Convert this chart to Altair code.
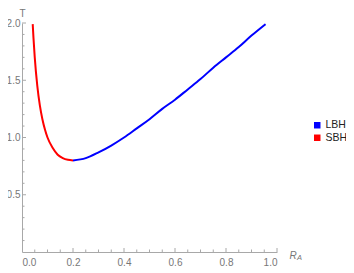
import altair as alt
import pandas as pd

# Small black hole branch (red)
sbh_r = [0.042, 0.045, 0.05, 0.06, 0.07, 0.08, 0.09, 0.10, 0.12, 0.14, 0.16, 0.18, 0.20]
sbh_t = [1.99, 1.87, 1.70, 1.45, 1.28, 1.16, 1.07, 1.00, 0.91, 0.85, 0.82, 0.805, 0.80]
# Large black hole branch (blue)
lbh_r = [0.20, 0.25, 0.30, 0.35, 0.40, 0.45, 0.50, 0.55, 0.60, 0.65, 0.70, 0.75, 0.80, 0.85, 0.90, 0.955]
lbh_t = [0.80, 0.82, 0.87, 0.93, 1.00, 1.08, 1.16, 1.25, 1.33, 1.42, 1.51, 1.61, 1.70, 1.79, 1.89, 1.99]

series_names = ["LBH", "SBH"]
series_colors = ["#0000ff", "#ff0000"]

x_labels = [0.0, 0.2, 0.4, 0.6, 0.8, 1.0]
y_labels = [0.5, 1.0, 1.5, 2.0]
x_major = [0.2, 0.4, 0.6, 0.8, 1.0]
x_minor = [0.05, 0.1, 0.15, 0.25, 0.3, 0.35, 0.45, 0.5, 0.55, 0.65, 0.7, 0.75, 0.85, 0.9, 0.95]
y_major = [0.5, 1.0, 1.5, 2.0]
y_minor = [0.1, 0.2, 0.3, 0.4, 0.6, 0.7, 0.8, 0.9, 1.1, 1.2, 1.3, 1.4, 1.6, 1.7, 1.8, 1.9]

W, H = 255, 229
GRAY = "#a8a8a8"
LABEL = "#777777"
FONT = "Liberation Sans"

df = pd.concat([
    pd.DataFrame({"r": lbh_r, "T": lbh_t, "branch": "LBH"}),
    pd.DataFrame({"r": sbh_r, "T": sbh_t, "branch": "SBH"}),
], ignore_index=True)

xscale = alt.Scale(domain=[0, 1], nice=False, zero=False)
yscale = alt.Scale(domain=[0, 2], nice=False, zero=False)
cscale = alt.Scale(domain=series_names, range=series_colors)

x_axis = alt.Axis(
    values=x_labels, format=".1f", ticks=False, tickSize=0, grid=False,
    domainColor=GRAY, labelColor=LABEL, labelFont=FONT, labelFontSize=10,
    labelPadding=5, title="R", titleFont=FONT, titleFontSize=10,
    titleFontStyle="italic", titleFontWeight="normal", titleColor=LABEL,
    titleX=W + 12, titleY=3, titleAlign="left", titleBaseline="middle")
y_axis = alt.Axis(
    values=y_labels, format=".1f", ticks=False, tickSize=0, grid=False,
    domainColor=GRAY, labelColor=LABEL, labelFont=FONT, labelFontSize=10,
    labelPadding=2, title="T", titleFont=FONT, titleFontSize=10,
    titleFontWeight="normal", titleColor=LABEL, titleAngle=0,
    titleX=0, titleY=-10, titleAlign="center", titleBaseline="middle")

legend = alt.Legend(
    title=None, orient="none", legendX=W + 35, legendY=97,
    symbolType="square", symbolSize=42, symbolStrokeWidth=0,
    labelFont=FONT, labelFontSize=10.5, labelColor="#222222",
    labelOffset=3, rowPadding=1.5, padding=0)


def X(f):
    return alt.X(f, scale=xscale, axis=x_axis, title="R")


def Y(f):
    return alt.Y(f, scale=yscale, axis=y_axis, title="T")


def C(f):
    return alt.Color(f, scale=cscale, legend=legend)


legend_layer = alt.Chart(df).transform_filter("datum.r < 0").mark_square(
    filled=True, opacity=1).encode(x=X("r:Q"), y=Y("T:Q"), color=C("branch:N"))

lines = alt.Chart(df).mark_line(strokeWidth=2, interpolate="monotone").encode(
    x=X("r:Q"), y=Y("T:Q"), color=C("branch:N"))

xmaj = alt.Chart(pd.DataFrame({"v": x_major})).mark_rule(color=GRAY, strokeWidth=1).encode(
    x=X("v:Q"), y=alt.value(H), y2=alt.value(H - 4))
xmin = alt.Chart(pd.DataFrame({"v": x_minor})).mark_rule(color=GRAY, strokeWidth=1).encode(
    x=X("v:Q"), y=alt.value(H), y2=alt.value(H - 2.5))
ymaj = alt.Chart(pd.DataFrame({"v": y_major})).mark_rule(color=GRAY, strokeWidth=1).encode(
    y=Y("v:Q"), x=alt.value(0), x2=alt.value(4))
ymin = alt.Chart(pd.DataFrame({"v": y_minor})).mark_rule(color=GRAY, strokeWidth=1).encode(
    y=Y("v:Q"), x=alt.value(0), x2=alt.value(2.5))

sub = alt.Chart(pd.DataFrame({"s": ["A"]})).mark_text(
    align="left", baseline="middle", fontStyle="italic", fontSize=7.5,
    font=FONT, color=LABEL, dx=20, dy=6).encode(
    x=alt.X(datum=1.0, scale=xscale, axis=x_axis, title="R"),
    y=alt.Y(datum=0, scale=yscale, axis=y_axis, title="T"),
    text="s:N")

chart = alt.layer(legend_layer, xmin, xmaj, ymin, ymaj, lines, sub).properties(
    width=W, height=H,
    autosize=alt.AutoSizeParams(type="none"),
    padding={"left": 14, "top": 15, "right": 69, "bottom": 21},
).configure_view(stroke=None)

chart.save("out.html", embed_options={"renderer": "svg", "actions": False})
